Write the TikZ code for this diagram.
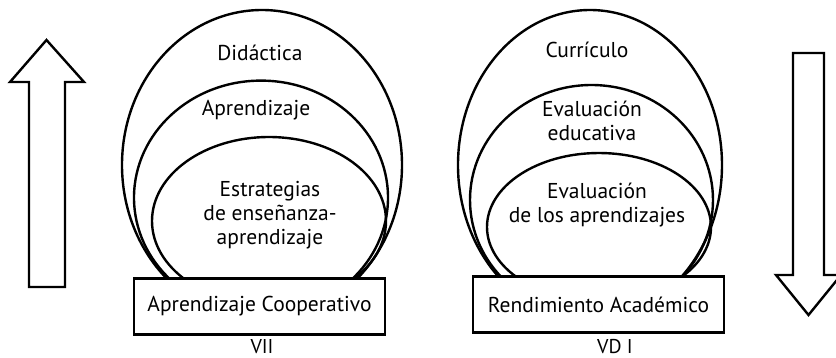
\documentclass[tikz,border=0pt]{standalone}
\usepackage{fontspec}
\setmainfont{PT Sans}
\tikzset{>=latex}
\tikzset{
  capa/.style={line width=2.4pt},
  caja/.style={draw, line width=2.2pt, fill=white, minimum width=251pt, minimum height=56pt, inner sep=0pt},
  etiqueta/.style={align=center, font=\fontsize{21.5}{24}\selectfont},
  rotulo/.style={anchor=base, inner sep=0pt, font=\fontsize{20}{24}\selectfont},
  flecha/.style={line width=2.4pt, fill=white, line join=miter},
}
\begin{document}
\begin{tikzpicture}[x=1pt,y=-1pt]
  \useasboundingbox (0,0) rectangle (836,357);
  % flechas
  \draw[flecha] (29,287) -- (29,82) -- (10,82) -- (46.5,40) -- (84,82) -- (65,82) -- (65,287) -- cycle;
  \draw[flecha] (793,53) -- (793,275) -- (776,275) -- (808.5,315) -- (841,275) -- (824,275) -- (824,53) -- cycle;

  % VI
  \draw[capa] (262,165) ellipse [x radius=140pt, y radius=155pt];
  \draw[capa] (261,197.6) ellipse [x radius=127pt, y radius=117pt];
  \draw[capa] (269,221) ellipse [x radius=117pt, y radius=84pt];
  \node[etiqueta] (didactica) at (260,53) {Didáctica};
  \node[etiqueta] (aprendizaje) at (256,110) {Aprendizaje};
  \node[etiqueta] (estrategias) at (270,215) {Estrategias\\de enseñanza-\\aprendizaje};
  \node[caja, etiqueta] (coop) at (259.5,306.5) {Aprendizaje Cooperativo};
  \node[rotulo] (vii) at (262,353) {VII};

  % VD
  \draw[capa] (590,165) ellipse [x radius=132pt, y radius=155pt];
  \draw[capa] (591.5,200) ellipse [x radius=121.5pt, y radius=115pt];
  \draw[capa] (599,227) ellipse [x radius=112pt, y radius=74pt];
  \node[etiqueta] (curriculo) at (587,50) {Currículo};
  \node[etiqueta] (evaluacion) at (592,120.5) {Evaluación\\educativa};
  \node[etiqueta] (evalap) at (597,205) {Evaluación\\de los aprendizajes};
  \node[caja, etiqueta] (rendimiento) at (598.5,304.5) {Rendimiento Académico};
  \node[rotulo] (vdi) at (615,353) {VD I};
\end{tikzpicture}
\end{document}
